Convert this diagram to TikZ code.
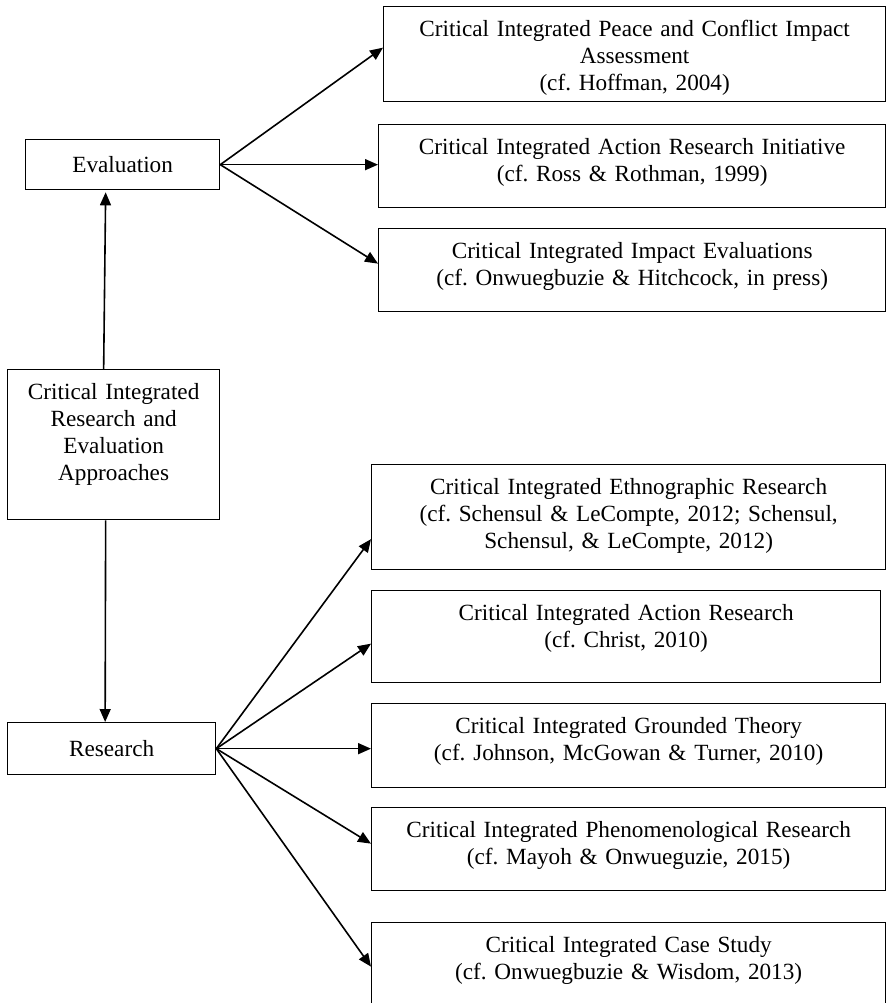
\documentclass[tikz,border=0pt]{standalone}
\usepackage{fontspec}
\setmainfont{Liberation Serif}
\usetikzlibrary{arrows.meta}
\frenchspacing

\begin{document}
\begin{tikzpicture}[
    x=0.5pt, y=-0.5pt,
    every node/.style       = {draw, rectangle, line width=0.65pt, anchor=north west,
                               align=center, font=\fontsize{11.6}{13.5}\selectfont,
                               inner xsep=2pt, inner ysep=6pt},
    topb/.style             = {text height=9pt, text depth=#1},
    midb/.style             = {minimum height=#1},
    arr/.style              = {line width=0.8pt, -{Triangle[length=6.5pt,width=5.5pt]}}
    ]
      \useasboundingbox (0,0) rectangle (886,1003);
      \clip (0,0) rectangle (886,1003);

      % left boxes -------------------------------------------------
      \node[midb=25pt, text width=93pt]    (eval) at (25,139)  {Evaluation};
      \node[topb=54pt, text width=102pt]   (cira) at (7,369)   {Critical Integrated\\Research and\\Evaluation\\Approaches};
      \node[midb=26pt, text width=100pt]   (res)  at (7,722)   {Research};

      % evaluation boxes -------------------------------------------
      \node[topb=26.5pt, text width=247pt]   (e1) at (383,6)   {Critical Integrated Peace and Conflict Impact\\Assessment\\(cf. Hoffman, 2004)};
      \node[topb=20.5pt, text width=249.5pt] (e2) at (378,124) {Critical Integrated Action Research Initiative\\(cf. Ross \& Rothman, 1999)};
      \node[topb=20.5pt, text width=249.5pt] (e3) at (378,228) {Critical Integrated Impact Evaluations\\(cf. Onwuegbuzie \& Hitchcock, in press)};

      % research boxes ---------------------------------------------
      \node[topb=31.5pt, text width=253pt]   (r1) at (371,464) {Critical Integrated Ethnographic Research\\(cf. Schensul \& LeCompte, 2012; Schensul,\\Schensul, \& LeCompte, 2012)};
      \node[topb=25pt, text width=250.5pt]   (r2) at (371,590) {Critical Integrated Action Research\\(cf. Christ, 2010)};
      \node[topb=21pt, text width=253pt]     (r3) at (371,703) {Critical Integrated Grounded Theory\\(cf. Johnson, McGowan \& Turner, 2010)};
      \node[topb=20.5pt, text width=253pt]   (r4) at (371,807) {Critical Integrated Phenomenological Research\\(cf. Mayoh \& Onwueguzie, 2015)};
      \node[topb=23pt, text width=253pt]     (r5) at (371,922) {Critical Integrated Case Study\\(cf. Onwuegbuzie \& Wisdom, 2013)};

      % arrows -----------------------------------------------------
      \draw[arr] ([xshift=-5pt]cira.north) -- ([xshift=-8.5pt,yshift=-1pt]eval.south);
      \draw[arr] ([xshift=-4pt]cira.south) -- ([xshift=-3.25pt]res.north);

      \draw[arr] (eval.east) -- ([yshift=3.25pt]e1.west);
      \draw[arr] (eval.east) -- ([yshift=0.75pt]e2.west);
      \draw[arr] (eval.east) -- ([yshift=3.25pt]e3.west);

      \draw[arr] (res.east) -- ([yshift=-11pt]r1.west);
      \draw[arr] (res.east) -- ([yshift=-3.5pt]r2.west);
      \draw[arr] (res.east) -- ([yshift=-1.5pt]r3.west);
      \draw[arr] (res.east) -- ([yshift=2.75pt]r4.west);
      \draw[arr] (res.east) -- (r5.west);
    \end{tikzpicture}
\end{document}
